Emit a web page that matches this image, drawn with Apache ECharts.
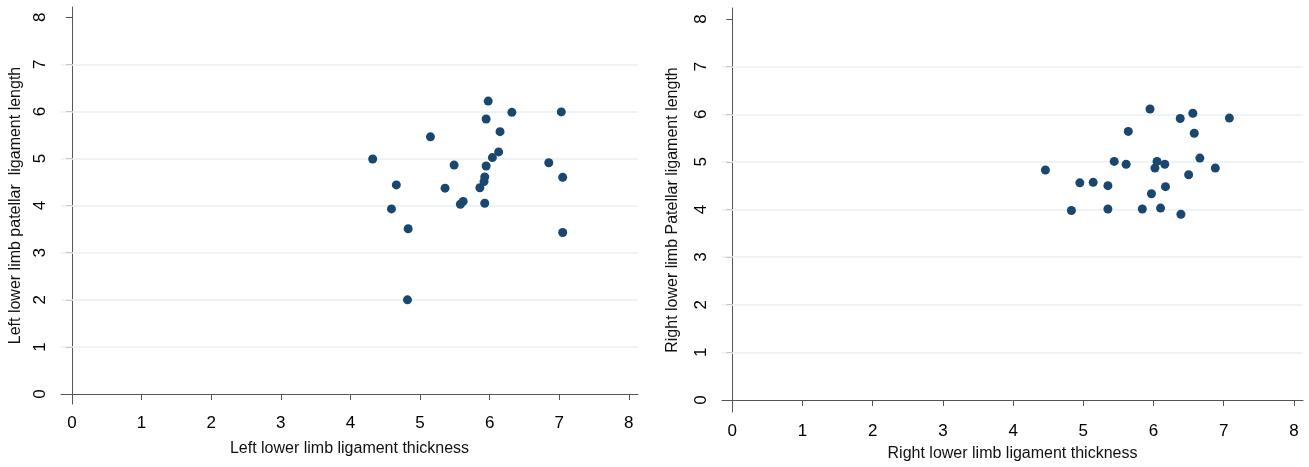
<!DOCTYPE html>
<html>
<head>
<meta charset="utf-8">
<script src="https://cdn.jsdelivr.net/npm/echarts@6/dist/echarts.min.js"></script>
<style>
html,body{margin:0;padding:0;background:#fff;}
#chart{width:1309px;height:467px;}
</style>
</head>
<body>
<div id="chart"></div>
<script>
// ---- data ----
const tickValues = [0, 1, 2, 3, 4, 5, 6, 7, 8];
const gridValues = [1, 2, 3, 4, 5, 6, 7];

const leftThickness = [5.98, 6.32, 7.03, 5.95, 6.15, 5.15, 6.13, 6.04, 4.32, 6.85, 5.49, 5.95, 7.05,
  5.93, 5.92, 4.66, 5.36, 5.86, 5.62, 5.58, 5.93, 4.59, 4.83, 7.05, 4.82];
const leftLength = [6.22, 5.98, 5.99, 5.84, 5.57, 5.46, 5.14, 5.02, 4.99, 4.91, 4.86, 4.84, 4.60,
  4.61, 4.51, 4.44, 4.37, 4.38, 4.09, 4.03, 4.05, 3.93, 3.51, 3.43, 2.00];

const rightThickness = [4.46, 4.83, 4.95, 5.14, 5.35, 5.35, 5.44, 5.64, 5.61, 5.84, 5.95, 5.97, 6.02,
  6.05, 6.10, 6.16, 6.17, 6.38, 6.39, 6.50, 6.56, 6.58, 6.66, 6.88, 7.08];
const rightLength = [4.83, 3.98, 4.56, 4.57, 4.50, 4.01, 5.01, 5.64, 4.95, 4.01, 6.11, 4.33, 4.87,
  5.01, 4.03, 4.95, 4.48, 5.91, 3.90, 4.73, 6.02, 5.60, 5.08, 4.87, 5.92];

const leftXTitle = 'Left lower limb ligament thickness';
const leftYTitle = 'Left lower limb patellar  ligament length';
const rightXTitle = 'Right lower limb ligament thickness';
const rightYTitle = 'Right lower limb Patellar ligament length';

// ---- chart ----
const FONT = 'Liberation Sans, Arial, sans-serif';
const MARK = '#1a476f';
const AXIS = '#555555';
const GRIDC = '#e9eff3';

function pairs(xs, ys) { return xs.map((x, i) => [x, ys[i]]); }

function xAxisCfg(idx, min, max, name, gap) {
  return {
    type: 'value', gridIndex: idx, min: min, max: max,
    name: name, nameLocation: 'middle', nameGap: gap,
    nameTextStyle: { fontFamily: FONT, fontSize: 16, color: '#111' },
    axisLine: { show: true, lineStyle: { color: AXIS, width: 1 } },
    axisTick: { show: true, inside: false, length: 6, customValues: tickValues, lineStyle: { color: AXIS } },
    axisLabel: { show: true, customValues: tickValues, margin: 11, fontFamily: FONT, fontSize: 17, color: '#000' },
    splitLine: { show: false }
  };
}
function yAxisCfg(idx, min, max, name, gap) {
  return {
    type: 'value', gridIndex: idx, min: min, max: max,
    name: name, nameLocation: 'middle', nameGap: gap,
    nameTextStyle: { fontFamily: FONT, fontSize: 16, color: '#111' },
    axisLine: { show: true, lineStyle: { color: AXIS, width: 1 } },
    axisTick: { show: true, inside: false, length: 6, customValues: tickValues, lineStyle: { color: AXIS } },
    axisLabel: { show: true, customValues: tickValues, rotate: 90, margin: 12, fontFamily: FONT, fontSize: 17, color: '#000' },
    splitLine: { show: false }
  };
}
function gridSeries(idx, data) {
  return {
    type: 'scatter', xAxisIndex: idx, yAxisIndex: idx, data: data, symbol: 'none', silent: true, z: 1,
    markLine: {
      z: 1,
      silent: true, symbol: 'none', label: { show: false },
      lineStyle: { color: GRIDC, width: 1.5, type: 'solid' },
      emphasis: { disabled: true },
      data: gridValues.map(v => ({ yAxis: v }))
    }
  };
}
function pointSeries(idx, data) {
  return {
    type: 'scatter', xAxisIndex: idx, yAxisIndex: idx, data: data, z: 10,
    symbol: 'circle', symbolSize: 9,
    itemStyle: { color: MARK, opacity: 1 }
  };
}

const leftData = pairs(leftThickness, leftLength);
const rightData = pairs(rightThickness, rightLength);

const chart = echarts.init(document.getElementById('chart'), null, { renderer: 'canvas' });
chart.setOption({
  animation: false,
  backgroundColor: '#ffffff',
  grid: [
    { left: 61, top: 7, width: 577, height: 397 },
    { left: 722, top: 8, width: 581, height: 404 }
  ],
  xAxis: [
    xAxisCfg(0, -0.158, 8.132, leftXTitle, 37),
    xAxisCfg(1, -0.147, 8.129, rightXTitle, 34)
  ],
  yAxis: [
    yAxisCfg(0, -0.212, 8.217, leftYTitle, 37),
    yAxisCfg(1, -0.252, 8.231, rightYTitle, 41)
  ],
  series: [
    gridSeries(0, leftData), pointSeries(0, leftData),
    gridSeries(1, rightData), pointSeries(1, rightData)
  ]
});
</script>
</body>
</html>
